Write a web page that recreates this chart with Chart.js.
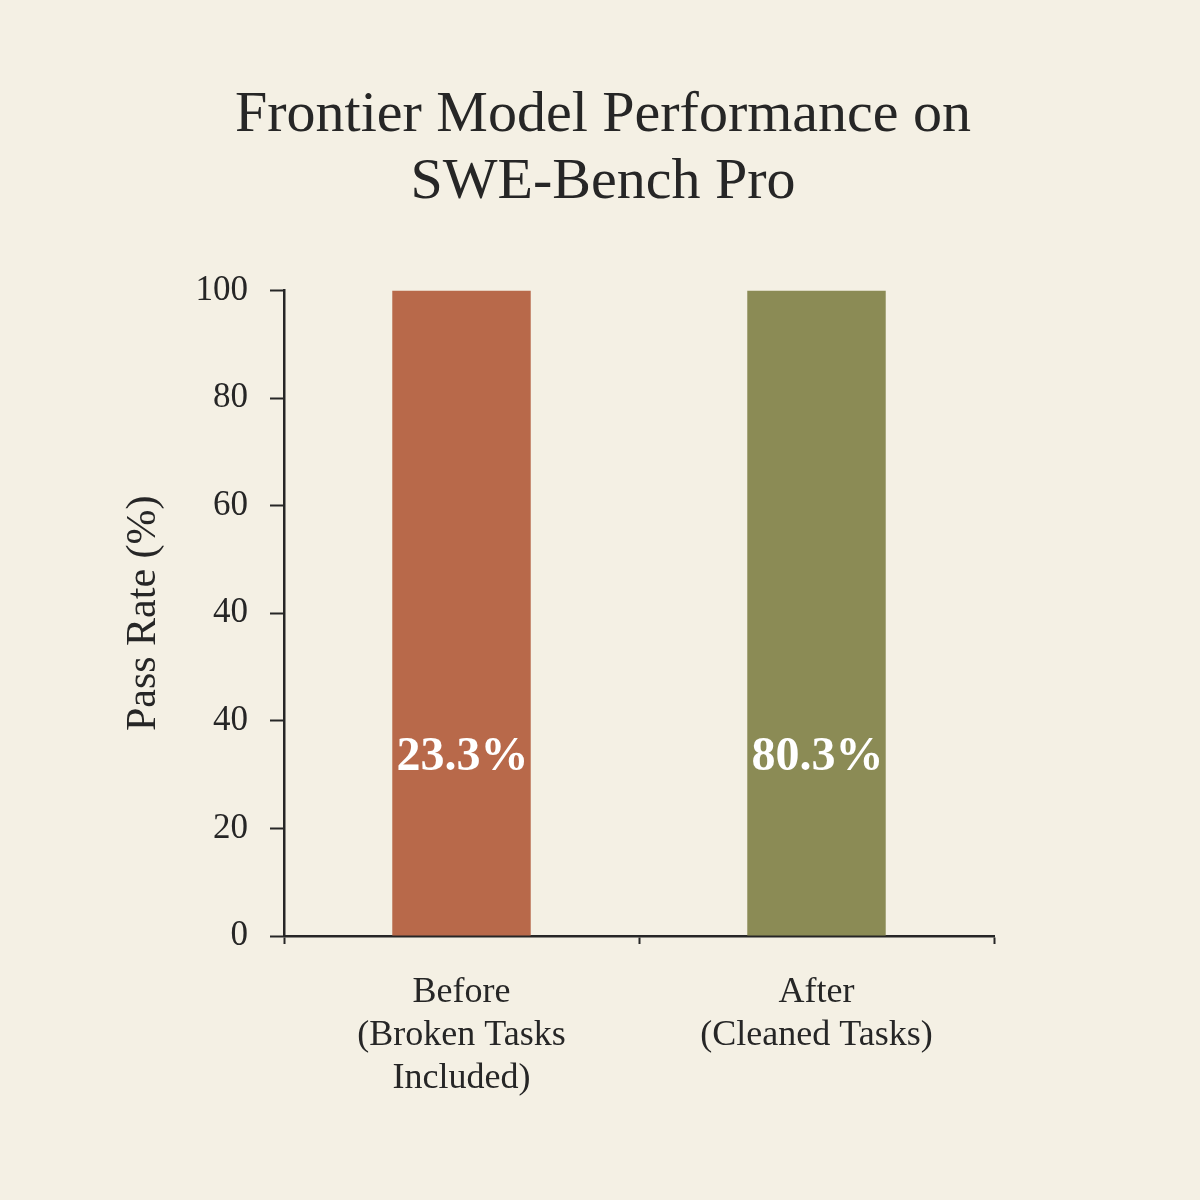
<!DOCTYPE html>
<html>
<head>
<meta charset="utf-8">
<script src="https://cdn.jsdelivr.net/npm/chart.js@4.4.0/dist/chart.umd.min.js"></script>
<style>
  html, body { margin: 0; padding: 0; background: #f4f0e4; }
  #wrap { width: 1200px; height: 1200px; }
</style>
</head>
<body>
<div id="wrap"><canvas id="chart" width="1200" height="1200"></canvas></div>
<script>
  // Data
  const categories = [
    ['Before', '(Broken Tasks', 'Included)'],
    ['After', '(Cleaned Tasks)']
  ];
  const barValues = [100, 100];
  const barLabels = ['23.3%', '80.3%'];
  const barColors = ['#b8694a', '#8b8b55'];
  // tick labels as printed, bottom to top (the picture repeats "40")
  const yTickLabels = ['0', '20', '40', '40', '60', '80', '100'];

  const SERIF = '"Liberation Serif", "DejaVu Serif", serif';
  const INK = '#262626';

  // draws the percentage text inside each bar
  const barTextPlugin = {
    id: 'barText',
    afterDatasetsDraw(chart) {
      const ctx = chart.ctx;
      const meta = chart.getDatasetMeta(0);
      const y = chart.scales.y.getPixelForValue(28);
      ctx.save();
      ctx.fillStyle = '#ffffff';
      ctx.font = 'bold 48px ' + SERIF;
      ctx.textAlign = 'center';
      ctx.textBaseline = 'middle';
      meta.data.forEach((bar, i) => {
        ctx.fillText(barLabels[i], bar.x + 1, y + 2);
      });
      ctx.restore();
    }
  };

  new Chart(document.getElementById('chart'), {
    type: 'bar',
    data: {
      labels: categories,
      datasets: [{
        data: barValues,
        backgroundColor: barColors,
        borderWidth: 0,
        barPercentage: 0.39,
        categoryPercentage: 1
      }]
    },
    options: {
      responsive: false,
      animation: false,
      layout: { padding: { left: 20, right: 14, top: 0, bottom: 0 } },
      plugins: {
        legend: { display: false },
        tooltip: { enabled: false },
        title: {
          display: true,
          text: ['Frontier Model Performance on', 'SWE-Bench Pro'],
          color: INK,
          font: { family: SERIF, size: 58, weight: 'normal', lineHeight: 1.16 },
          padding: { top: 82, bottom: 74 }
        }
      },
      scales: {
        x: {
          grid: {
            offset: true,
            drawOnChartArea: false,
            tickLength: 8,
            tickColor: INK,
            tickWidth: 2
          },
          border: { color: INK, width: 2.5 },
          ticks: {
            color: INK,
            padding: 27,
            maxRotation: 0,
            font: { family: SERIF, size: 36, lineHeight: 1.19 }
          },
          afterFit(scale) { scale.height = 264; }
        },
        y: {
          min: 0,
          max: 100,
          grid: {
            drawOnChartArea: false,
            tickLength: 14,
            tickColor: INK,
            tickWidth: 2
          },
          border: { color: INK, width: 2.5 },
          ticks: {
            stepSize: 100 / 6,
            color: INK,
            padding: 22,
            font: { family: SERIF, size: 35 },
            callback: (value, index) => yTickLabels[index]
          },
          title: {
            display: true,
            text: 'Pass Rate (%)',
            color: INK,
            font: { family: SERIF, size: 42 },
            padding: { top: 99, bottom: 0 }
          },
          afterFit(scale) { scale.width = 284 - 20; }
        },
        // empty right-hand spacer so the title centres like the reference
        spacer: {
          type: 'linear',
          position: 'right',
          display: true,
          grid: { display: false, drawTicks: false },
          border: { display: false },
          ticks: { display: false },
          afterFit(scale) { scale.width = 1186 - 994; }
        }
      }
    },
    plugins: [barTextPlugin]
  });
</script>
</body>
</html>
